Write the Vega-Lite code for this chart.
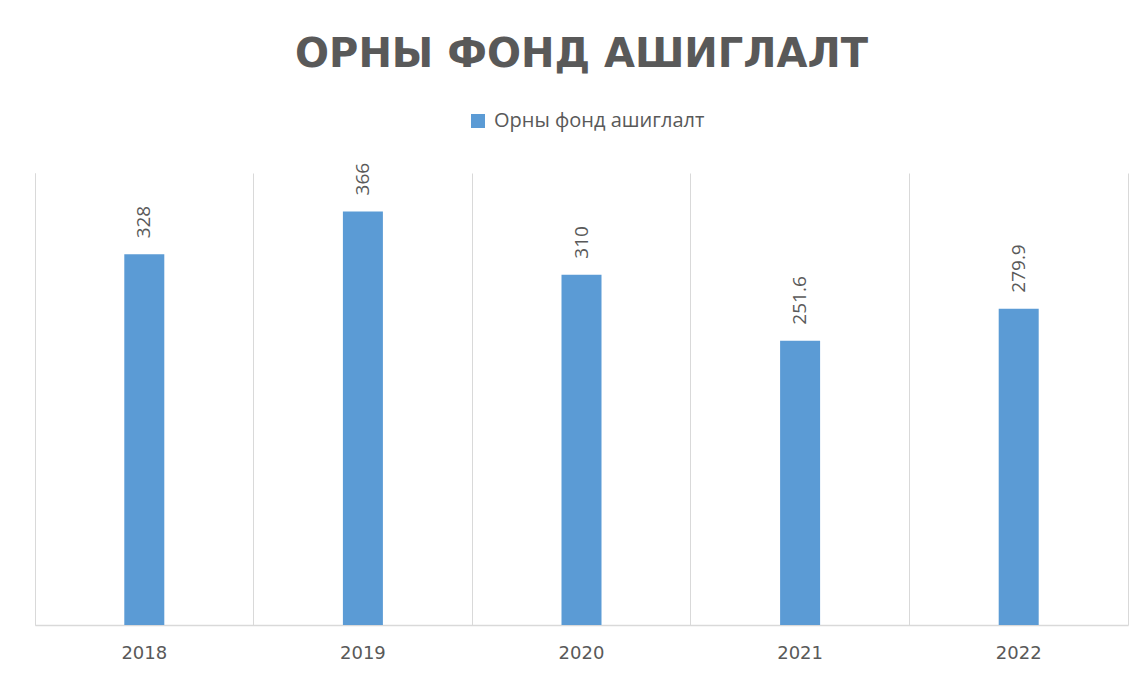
{
  "$schema": "https://vega.github.io/schema/vega-lite/v6.json",
  "autosize": "none",
  "width": 1093,
  "height": 452,
  "padding": {"left": 35, "top": 173, "right": 18, "bottom": 50},
  "background": "white",
  "config": {"view": {"stroke": null}},
  "title": {
    "text": "ОРНЫ ФОНД АШИГЛАЛТ",
    "font": "DejaVu Sans",
    "fontSize": 40,
    "fontWeight": "bold",
    "color": "#595959",
    "anchor": "middle",
    "offset": 36
  },
  "data": {
    "values": [
      {"year": "2018", "value": 328, "series": "Орны фонд ашиглалт"},
      {"year": "2019", "value": 366, "series": "Орны фонд ашиглалт"},
      {"year": "2020", "value": 310, "series": "Орны фонд ашиглалт"},
      {"year": "2021", "value": 251.6, "series": "Орны фонд ашиглалт"},
      {"year": "2022", "value": 279.9, "series": "Орны фонд ашиглалт"}
    ]
  },
  "encoding": {
    "x": {
      "field": "year",
      "type": "nominal",
      "scale": {"paddingInner": 0, "paddingOuter": 0},
      "axis": {
        "title": null,
        "orient": "bottom",
        "labelAngle": 0,
        "ticks": false,
        "grid": true,
        "bandPosition": 0,
        "gridColor": "#d9d9d9",
        "gridWidth": 1,
        "domainColor": "#d9d9d9",
        "domainWidth": 1.5,
        "labelColor": "#595959",
        "labelFont": "DejaVu Sans",
        "labelFontSize": 18,
        "labelPadding": 19
      }
    }
  },
  "layer": [
    {
      "mark": {"type": "bar", "size": 40},
      "encoding": {
        "y": {
          "field": "value",
          "type": "quantitative",
          "scale": {"domain": [0, 400]},
          "axis": {"orient": "left", "title": null, "labels": false, "ticks": false, "grid": false, "domainColor": "#d9d9d9", "domainWidth": 1}
        },
        "color": {
          "field": "series",
          "type": "nominal",
          "scale": {"range": ["#5b9bd5"]},
          "legend": {
            "title": null,
            "orient": "none",
            "legendX": 433,
            "legendY": -62,
            "symbolType": "square",
            "symbolSize": 196,
            "symbolStrokeWidth": 0,
            "labelFont": "Open Sans",
            "labelFontSize": 20,
            "labelColor": "#595959",
            "labelOffset": 6,
            "labelLimit": 400
          }
        }
      }
    },
    {
      "mark": {
        "type": "text",
        "angle": 270,
        "align": "left",
        "baseline": "middle",
        "dx": 16,
        "font": "Open Sans",
        "fontSize": 19,
        "color": "#595959"
      },
      "encoding": {
        "y": {
          "field": "value",
          "type": "quantitative",
          "scale": {"domain": [0, 400]},
          "axis": {"orient": "right", "title": null, "labels": false, "ticks": false, "grid": false, "domainColor": "#d9d9d9", "domainWidth": 1}
        },
        "text": {"field": "value", "type": "quantitative"}
      }
    }
  ],
  "resolve": {"axis": {"y": "independent"}}
}
